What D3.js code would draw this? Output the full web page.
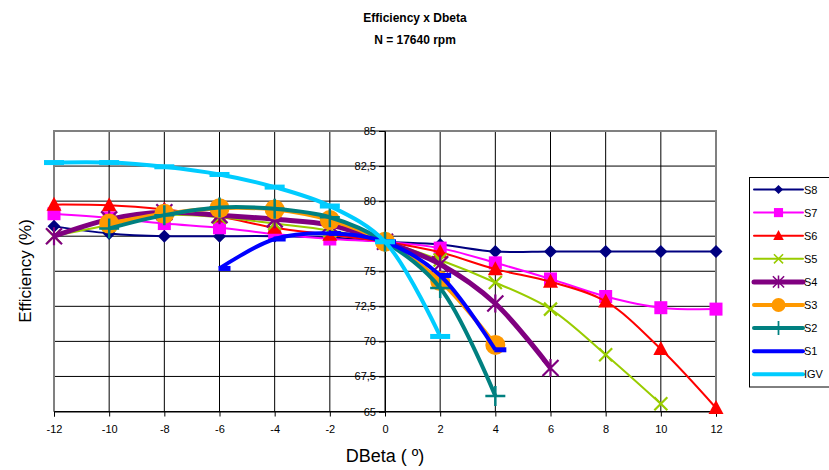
<!DOCTYPE html>
<html>
<head>
<meta charset="utf-8">
<script src="https://cdn.jsdelivr.net/npm/d3@7/dist/d3.min.js"></script>
<style>
  body { margin: 0; background: #fff; }
  text { font-family: Arial, "Liberation Sans", sans-serif; }
</style>
</head>
<body>
<svg width="829" height="470"></svg>
<script>
// x positions (DBeta, degrees)
var xTicks = [-12, -10, -8, -6, -4, -2, 0, 2, 4, 6, 8, 10, 12];
var yTicks = [65, 67.5, 70, 72.5, 75, 77.5, 80, 82.5, 85];

// efficiency values, one array per series
var s8x = [-12, -10, -8, -6, -4, -2, 0, 2, 4, 6, 8, 10, 12];
var s8y = [78.2, 77.7, 77.5, 77.5, 77.5, 77.4, 77.1, 76.9, 76.4, 76.4, 76.4, 76.4, 76.4];
var s7x = [-12, -10, -8, -6, -4, -2, 0, 2, 4, 6, 8, 10, 12];
var s7y = [79.1, 78.8, 78.4, 78.1, 77.65, 77.3, 77.1, 76.65, 75.6, 74.45, 73.2, 72.4, 72.3];
var s6x = [-12, -10, -8, -6, -4, -2, 0, 2, 4, 6, 8, 10, 12];
var s6y = [79.75, 79.7, 79.4, 78.9, 78.1, 77.6, 77.1, 76.35, 75.15, 74.25, 72.85, 69.45, 65.25];
var s5x = [-12, -10, -8, -6, -4, -2, 0, 2, 4, 6, 8, 10];
var s5y = [77.5, 78.3, 79.0, 78.85, 78.4, 77.9, 77.1, 75.8, 74.2, 72.3, 69.05, 65.55];
var s4x = [-12, -10, -8, -6, -4, -2, 0, 2, 4, 6];
var s4y = [77.5, 78.7, 79.2, 79.0, 78.7, 78.3, 77.1, 75.5, 72.7, 68.1];
var s3x = [-10, -8, -6, -4, -2, 0, 2, 4];
var s3y = [78.4, 79.1, 79.5, 79.4, 78.65, 77.1, 74.3, 69.75];
var s2x = [-10, -8, -6, -4, -2, 0, 2, 4];
var s2y = [78.05, 79.0, 79.55, 79.45, 78.85, 77.1, 73.8, 66.1];
var s1x = [-6, -4, -2, 0, 2, 4];
var s1y = [75.2, 77.3, 77.7, 77.1, 74.7, 69.4];
var igvx = [-12, -10, -8, -6, -4, -2, 0, 2];
var igvy = [82.75, 82.75, 82.45, 81.9, 81.0, 79.65, 77.1, 70.35];

var seriesNames = ["S8", "S7", "S6", "S5", "S4", "S3", "S2", "S1", "IGV"];
var seriesX = [s8x, s7x, s6x, s5x, s4x, s3x, s2x, s1x, igvx];
var seriesY = [s8y, s7y, s6y, s5y, s4y, s3y, s2y, s1y, igvy];

var style = {
  S8:  { color: "#000080", width: 2,   marker: "diamond" },
  S7:  { color: "#ff00ff", width: 2,   marker: "square" },
  S6:  { color: "#ff0000", width: 2,   marker: "triangle" },
  S5:  { color: "#99cc00", width: 2,   marker: "x" },
  S4:  { color: "#800080", width: 5,   marker: "star" },
  S3:  { color: "#ff9900", width: 4,   marker: "circle" },
  S2:  { color: "#008080", width: 4,   marker: "plus" },
  S1:  { color: "#0000ff", width: 4,   marker: "dash" },
  IGV: { color: "#00ccff", width: 4,   marker: "dashc" }
};

var svg = d3.select("svg");

var x = d3.scaleLinear().domain([-12, 12]).range([54, 716]);
var y = d3.scaleLinear().domain([65, 85]).range([411.5, 131]);

// title
svg.append("text").attr("x", 415).attr("y", 22).attr("text-anchor", "middle")
    .attr("font-size", 12).attr("font-weight", "bold").text("Efficiency x Dbeta");
svg.append("text").attr("x", 415).attr("y", 44).attr("text-anchor", "middle")
    .attr("font-size", 12).attr("font-weight", "bold").text("N = 17640 rpm");

// grid
var grid = svg.append("g");
grid.selectAll("line.h").data(yTicks).enter().append("line")
    .attr("x1", x(-12)).attr("x2", x(12))
    .attr("y1", function(d) { return y(d); }).attr("y2", function(d) { return y(d); })
    .attr("stroke", "#000").attr("stroke-width", 1);
grid.selectAll("line.v").data(xTicks).enter().append("line")
    .attr("y1", y(65)).attr("y2", y(85))
    .attr("x1", function(d) { return x(d); }).attr("x2", function(d) { return x(d); })
    .attr("stroke", "#000").attr("stroke-width", 1);

// plot border
svg.append("path")
    .attr("d", "M" + x(-12) + "," + y(65) + "V" + y(85) + "H" + x(12) + "V" + y(65))
    .attr("fill", "none").attr("stroke", "#808080").attr("stroke-width", 2);

// y axis crossing at 0
var yAxis = d3.axisLeft(y).tickValues(yTicks).tickSize(6).tickPadding(3)
    .tickFormat(function(d) { return String(d).replace(".", ","); });
svg.append("g").attr("transform", "translate(" + x(0) + ",0)").call(yAxis)
    .call(function(g) {
      g.select(".domain").attr("stroke", "#000");
      g.selectAll("text").attr("font-size", 11).attr("font-family", "Arial, 'Liberation Sans', sans-serif").attr("fill", "#000");
    });

// x axis at bottom
var xAxis = d3.axisBottom(x).tickValues(xTicks).tickSize(5).tickPadding(9)
    .tickFormat(function(d) { return String(d); });
svg.append("g").attr("transform", "translate(0," + y(65) + ")").call(xAxis)
    .call(function(g) {
      g.select(".domain").attr("stroke", "#000");
      g.selectAll("text").attr("font-size", 11).attr("font-family", "Arial, 'Liberation Sans', sans-serif").attr("fill", "#000");
    });

// axis titles
svg.append("text").attr("x", 385).attr("y", 462).attr("text-anchor", "middle")
    .attr("font-size", 18).text("DBeta ( \u00ba)");
svg.append("text").attr("transform", "translate(31,271) rotate(-90)").attr("text-anchor", "middle")
    .attr("font-size", 17).text("Efficiency (%)");

function drawMarker(g, type, color) {
  if (type === "diamond") {
    g.append("path").attr("d", "M0,-6.5L6.5,0L0,6.5L-6.5,0Z").attr("fill", color);
  } else if (type === "square") {
    g.append("rect").attr("x", -6.5).attr("y", -6.5).attr("width", 13).attr("height", 13).attr("fill", color);
  } else if (type === "triangle") {
    g.append("path").attr("d", "M0,-8L7.5,6L-7.5,6Z").attr("fill", color);
  } else if (type === "x") {
    g.append("path").attr("d", "M-6.5,-6.5L6.5,6.5M6.5,-6.5L-6.5,6.5").attr("stroke", color).attr("stroke-width", 2.2);
  } else if (type === "star") {
    g.append("path").attr("d", "M-8,-8L8,8M8,-8L-8,8M0,-9V9").attr("stroke", color).attr("stroke-width", 2.2);
  } else if (type === "circle") {
    g.append("circle").attr("r", 10).attr("fill", color);
  } else if (type === "plus") {
    g.append("path").attr("d", "M-10,0H10M0,-10V10").attr("stroke", color).attr("stroke-width", 2.5);
  } else if (type === "dash") {
    g.append("rect").attr("x", -1).attr("y", -2.5).attr("width", 12).attr("height", 5).attr("fill", color);
  } else if (type === "dashc") {
    g.append("rect").attr("x", -10).attr("y", -2.5).attr("width", 20).attr("height", 5).attr("fill", color);
  }
}

var line = d3.line()
    .x(function(d) { return x(d[0]); })
    .y(function(d) { return y(d[1]); })
    .curve(d3.curveCatmullRom.alpha(0.5));

var plot = svg.append("g");
seriesNames.forEach(function(name, i) {
  var st = style[name];
  var pts = seriesX[i].map(function(v, j) { return [v, seriesY[i][j]]; });
  var g = plot.append("g");
  g.append("path").datum(pts).attr("d", line)
      .attr("fill", "none").attr("stroke", st.color).attr("stroke-width", st.width)
      .attr("stroke-linejoin", "round");
  g.selectAll("g.m").data(pts).enter().append("g")
      .attr("transform", function(d) { return "translate(" + x(d[0]) + "," + y(d[1]) + ")"; })
      .each(function() { drawMarker(d3.select(this), st.marker, st.color); });
});

// legend
var legend = svg.append("g");
legend.append("rect").attr("x", 749.5).attr("y", 177.5).attr("width", 100).attr("height", 209.5)
    .attr("fill", "#fff").attr("stroke", "#000").attr("stroke-width", 1);
seriesNames.forEach(function(name, i) {
  var st = style[name];
  var ly = 189.5 + i * 23.1;
  var g = legend.append("g");
  g.append("line").attr("x1", 754).attr("x2", 803).attr("y1", ly).attr("y2", ly)
      .attr("stroke", st.color).attr("stroke-width", st.width).attr("stroke-linecap", "round");
  if (st.marker !== "dash" && st.marker !== "dashc") {
    var mg = g.append("g").attr("transform", "translate(778.5," + ly + ") scale(0.7)");
    drawMarker(mg, st.marker, st.color);
  }
  g.append("text").attr("x", 804).attr("y", ly + 4).attr("font-size", 11).text(name);
});
</script>
</body>
</html>
